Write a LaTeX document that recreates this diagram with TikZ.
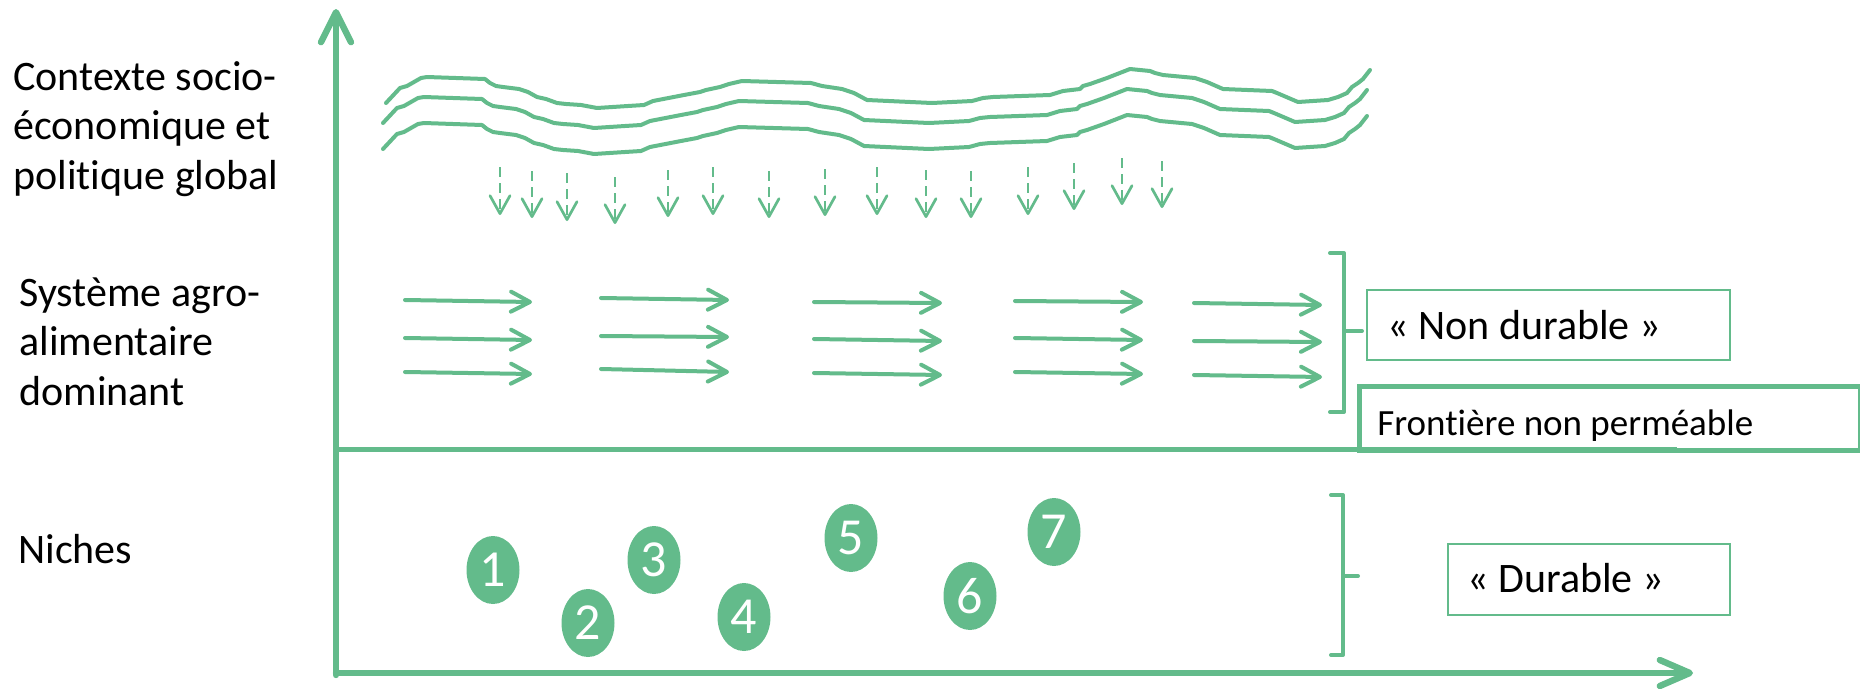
\documentclass[tikz,border=0pt]{standalone}
\usepackage{fontspec}
\setmainfont{Carlito}[Ligatures=NoCommon]
\usetikzlibrary{arrows.meta,shapes.geometric}
\definecolor{grn}{RGB}{99,187,139}
\begin{document}
\begin{tikzpicture}[x=0.5pt,y=-0.5pt,
  axisline/.style={draw=grn,line width=3.2pt,line cap=round},
  wave/.style={draw=grn,line width=2pt,line join=round,line cap=round},
  dasharrow/.style={draw=grn,line width=1.35pt,dash pattern=on 5pt off 3pt,-{Straight Barb[length=9pt,width=10pt,round]}},
  flowarrow/.style={draw=grn,line width=2pt,line cap=round,-{Straight Barb[length=9.5pt,width=10pt,round]}},
  bracket/.style={draw=grn,line width=2pt,line cap=round,line join=round},
  midline/.style={draw=grn,line width=2.5pt},
  thinbox/.style={draw=grn,line width=0.85pt,rectangle,inner sep=0pt},
  thickbox/.style={draw=grn,line width=2.5pt,rectangle,inner sep=0pt},
  lbl/.style={font=\fontsize{21}{24.75}\selectfont,align=left,inner sep=0pt},
  txt/.style={font=\fontsize{21}{25}\selectfont,inner sep=0pt},
  niche/.style={ellipse,fill=grn,text=white,inner sep=0pt,minimum width=26.5pt,minimum height=34pt,font=\fontsize{26}{30}\selectfont}
]
\useasboundingbox (0,0) rectangle (1860,691);

% labels (base anchor = baseline of last line)
\node[lbl,anchor=base west] (ctx) at (13,189) {Contexte socio-\\économique et\\politique global};
\node[lbl,anchor=base west] (sys) at (19,405) {Système agro-\\alimentaire\\dominant};
\node[lbl,anchor=base west] (nic) at (18,563) {Niches};

% axes
\coordinate (O) at (336,675);
\coordinate (ytip) at (336,9);
\coordinate (xtip) at (1693,673);
\draw[axisline,-{Straight Barb[length=15pt,width=15pt,round]}] (O) -- (ytip);
\draw[axisline,-{Straight Barb[length=15pt,width=13pt,round]}] (336,673) -- (xtip);

% middle frontier line
\coordinate (mL) at (336,449);
\coordinate (mR) at (1677,449);
\draw[midline] (mL) -- (mR);

% waves
\foreach \dx/\dy in {0/0,-3/20,-3/46}{
  \draw[wave,shift={(\dx,\dy)}] (386,103) -- (400,88) -- (407,86) -- (421,78) -- (427,77) -- (485,79) -- (490,83) -- (496,86) -- (503,87) -- (519,89) -- (528,92) -- (537,97) -- (546,99) -- (557,103) -- (566,104) -- (581,105) -- (597,108) -- (628,106) -- (644,105) -- (653,101) -- (684,95) -- (700,92) -- (706,90) -- (720,87) -- (729,84) -- (742,81) -- (811,83) -- (822,86) -- (842,89) -- (854,93) -- (867,100) -- (932,103) -- (972,101) -- (983,98) -- (993,97) -- (1050,95) -- (1063,91) -- (1080,89) -- (1083,86) -- (1090,84) -- (1107,78) -- (1130,69) -- (1150,71) -- (1155,73) -- (1163,75) -- (1195,78) -- (1207,82) -- (1223,89) -- (1272,91) -- (1277,93) -- (1298,102) -- (1328,100) -- (1338,97) -- (1347,93) -- (1352,87) -- (1358,83) -- (1363,79) -- (1370,70);
}

% dashed downward arrows
\foreach \i/\x/\a/\b in {1/500/167/215,2/532/171/218,3/567/173/221,4/615/177/224,5/668/170/217,6/713/167/215,7/769/171/218,8/825/169/216,9/877/167/215,10/926/170/218,11/971/171/218,12/1028/167/215,13/1074/163/210,14/1122/158/205,15/1162/161/208}{
  \coordinate (ds\i) at (\x,\a);
  \coordinate (de\i) at (\x,\b);
  \draw[dasharrow] (ds\i) -- (de\i);
}

% horizontal flow arrows
\foreach \i/\xa/\ya/\xb/\yb in {1/405/300/532/302,2/405/338/532/340,3/405/372/532/374,
  4/601/298/729/300,5/601/336/729/337,6/601/369/729/372,
  7/814/302/942/303,8/814/339/942/341,9/814/373/942/375,
  10/1015/301/1143/302,11/1015/338/1143/340,12/1015/372/1143/374,
  13/1194/303/1322/305,14/1194/341/1322/342,15/1194/375/1322/377}{
  \coordinate (fs\i) at (\xa,\ya);
  \coordinate (fe\i) at (\xb,\yb);
  \draw[flowarrow] (fs\i) -- (fe\i);
}

% brackets
\draw[bracket] (1330,253) -- (1344,253) -- (1344,412) -- (1330,412);
\draw[bracket] (1344,331) -- (1362,331);
\draw[bracket] (1331,495) -- (1343,495) -- (1343,655) -- (1331,655);
\draw[bracket] (1343,576) -- (1358,576);

% boxes
\node[thinbox,anchor=north west,minimum width=181.5pt,minimum height=35pt] (ndbox) at (1366,289) {};
\node[txt,anchor=base west] (ndtxt) at (1387,339) {« Non durable »};
\node[thickbox,anchor=north west,minimum width=250.5pt,minimum height=32pt] (frbox) at (1357,384) {};
\node[txt,font=\fontsize{18.5}{22}\selectfont,anchor=base west] (frtxt) at (1377,435) {Frontière non perméable};
\node[thinbox,anchor=north west,minimum width=141pt,minimum height=35.5pt] (dubox) at (1447,543) {};
\node[txt,anchor=base west] (dutxt) at (1467,592) {« Durable »};

% niches
\node[niche] (n1) at (493,570) {1};
\node[niche] (n2) at (588,623) {2};
\node[niche] (n3) at (654,560) {3};
\node[niche] (n4) at (744,617) {4};
\node[niche] (n5) at (851,538) {5};
\node[niche] (n6) at (970,596) {6};
\node[niche] (n7) at (1054,532) {7};
\end{tikzpicture}
\end{document}
